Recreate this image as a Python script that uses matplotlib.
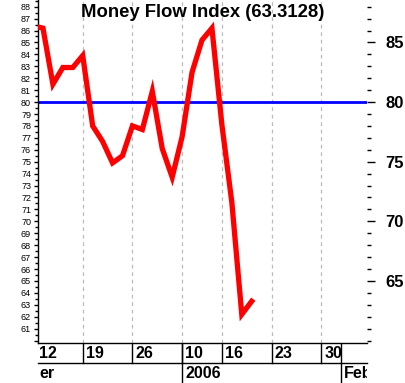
import matplotlib as mpl
import matplotlib.pyplot as plt
from matplotlib.ticker import FixedLocator, MultipleLocator

mpl.rcParams["font.family"] = ["Liberation Sans", "DejaVu Sans"]

# trading-day index (0 = first fully visible day), Money Flow Index values
day_idx = [-1, 0, 1, 2, 3, 4, 5, 6, 7, 8, 9, 10, 11, 12, 13, 14, 15, 16, 17, 18, 19, 20, 21]
mfi = [86.4, 86.2, 81.5, 82.9, 82.9, 83.9, 78.0, 76.7, 74.9, 75.5, 78.0, 77.7, 80.9,
       76.1, 73.7, 77.1, 82.5, 85.2, 86.2, 78.1, 71.6, 62.2, 63.3]
last_value = 63.3128
level = 80

week_idx = [-1, 4, 9, 14, 18, 23, 28]
week_labels = ["12", "19", "26", "10", "16", "23", "30"]
month_idx = [14, 30]
month_labels = ["2006", "Feb"]

W, H = 405, 383
fig = plt.figure(figsize=(W / 100, H / 100), dpi=100)
left, right, bottom = 38, 367, 343
ax = fig.add_axes([left / W, (H - bottom) / H, (right - left) / W, bottom / H])
ax.set_xlim(-0.5, 32.6)
ax.set_ylim(59.8, 88.56)

for k in week_idx[1:]:
    ax.axvline(k, color="#bbbbbb", linestyle=(0, (3, 3)), linewidth=0.9, zorder=1)
ax.axhline(level, color="#0000ff", linewidth=2.0, zorder=2)
ax.plot(day_idx, mfi, color="#ff0000", linewidth=3.8, solid_joinstyle="miter", zorder=3)

ax.text(0.5, 0.963, f"Money Flow Index ({last_value})", transform=ax.transAxes,
        ha="center", va="center", fontsize=13.3, fontweight="bold")

for s in ["top", "right"]:
    ax.spines[s].set_visible(False)
ax.spines["left"].set_linewidth(1.0)
ax.spines["bottom"].set_linewidth(1.0)
ax.set_xticks([])

# left axis: small labels every 1, minor every 0.5
ax.yaxis.set_major_locator(FixedLocator(list(range(60, 89))))
ax.yaxis.set_minor_locator(MultipleLocator(0.5))
ax.set_yticklabels([""] + [str(v) for v in range(61, 89)])
ax.tick_params(axis="y", which="major", length=3, width=1, labelsize=6.5, pad=2)
ax.tick_params(axis="y", which="minor", length=2, width=1)

# right axis: bold labels every 5
ax2 = ax.twinx()
ax2.set_ylim(ax.get_ylim())
for s in ["top", "right", "left", "bottom"]:
    ax2.spines[s].set_visible(False)
ax2.yaxis.set_major_locator(FixedLocator([65, 70, 75, 80, 85]))
ax2.yaxis.set_minor_locator(MultipleLocator(1))
ax2.tick_params(axis="y", which="major", length=6, width=1, labelsize=12, pad=7)
ax2.tick_params(axis="y", which="minor", length=3, width=1)
for lab in ax2.get_yticklabels():
    lab.set_fontweight("bold")

# date band under the plot
band = fig.add_axes([left / W, 0, (right - left) / W, (H - bottom) / H], sharex=ax)
band.set_ylim(0, 2)
band.axis("off")
band.plot([-0.5, 32.6], [1, 1], color="black", linewidth=1.0, clip_on=False)
for k, lab in zip(week_idx, week_labels):
    band.plot([k, k], [1, 2], color="black", linewidth=1.0)
    band.text(max(k + 0.3, -0.4), 1.48, lab, ha="left", va="center",
              fontsize=11.5, fontweight="bold", clip_on=True)
for k, lab in zip(month_idx, month_labels):
    band.plot([k, k], [0, 2], color="black", linewidth=1.0)
    band.text(k + 0.3, 0.48, lab, ha="left", va="center",
              fontsize=11.5, fontweight="bold", clip_on=True)
# tail of "December", cut by the left edge in the original
band.text(-0.4, 0.48, "er", ha="left", va="center",
          fontsize=11.5, fontweight="bold")

fig.savefig("out.png", dpi=100)
